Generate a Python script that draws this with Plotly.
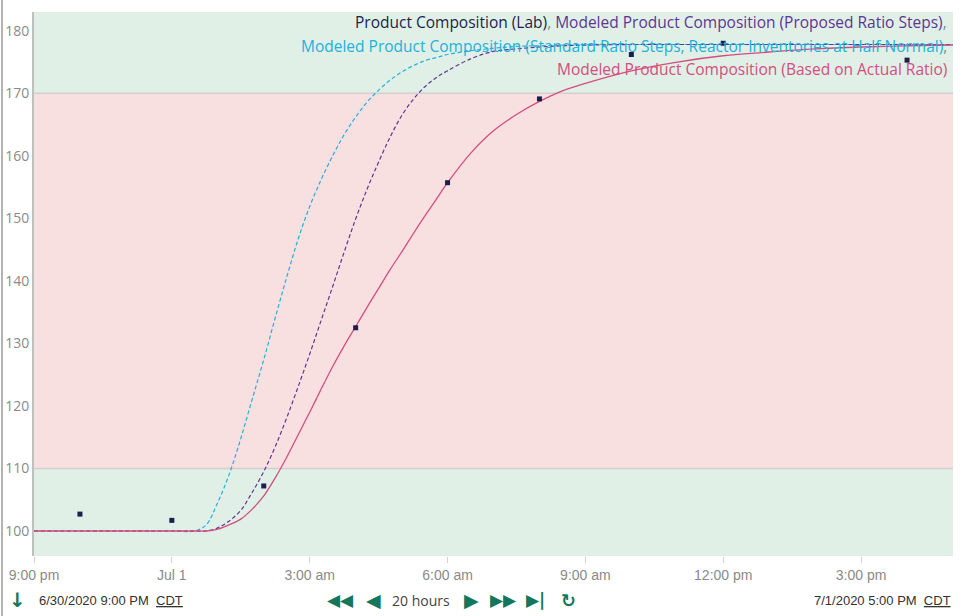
import plotly.graph_objects as go

# Product Composition (Lab)
lab_times = ["2020-06-30 22:00", "2020-07-01 00:00", "2020-07-01 02:00", "2020-07-01 04:00",
             "2020-07-01 06:00", "2020-07-01 08:00", "2020-07-01 10:00", "2020-07-01 12:00",
             "2020-07-01 16:00"]
lab_values = [102.7, 101.7, 107.2, 132.5, 155.7, 169.1, 176.2, 178.0, 175.3]

# shared time grid for the modeled curves
model_times = (["2020-06-30 21:00", "2020-07-01 00:00"]
               + [f"2020-07-01 {h:02d}:{m:02d}" for h in range(0, 7) for m in (0, 15, 30, 45)
                  if "00:30" <= f"{h:02d}:{m:02d}" <= "06:00"]
               + ["2020-07-01 06:30", "2020-07-01 07:00", "2020-07-01 07:30", "2020-07-01 08:00",
                  "2020-07-01 08:30", "2020-07-01 09:00"]
               + [f"2020-07-01 {h:02d}:00" for h in range(10, 18)])

# Modeled (Standard Ratio Steps, Reactor Inventories at Half Normal)
standard_values = [100, 100,
                   100, 101.0, 104.6, 109.1, 114.8, 121.1, 127.4, 134.1, 140.6, 146.7, 151.9,
                   156.2, 160.0, 163.4, 166.2, 168.6, 170.5, 172.1, 173.4, 174.4, 175.2, 175.7,
                   176.2,
                   176.8, 177.2, 177.5, 177.6, 177.7, 177.8,
                   177.8, 177.8, 177.8, 177.8, 177.8, 177.8, 177.8, 177.8]

# Modeled (Proposed Ratio Steps)
proposed_values = [100, 100,
                   100, 100.0, 100.5, 101.6, 103.3, 106.2, 109.5, 113.5, 118.1, 123.1, 128.3,
                   133.7, 139.1, 144.6, 149.9, 154.7, 159.0, 163.0, 166.4, 169.0, 171.0, 172.5,
                   173.6,
                   175.5, 176.7, 177.1, 177.4, 177.6, 177.7,
                   177.8, 177.8, 177.8, 177.8, 177.8, 177.8, 177.8, 177.8]

# Modeled (Based on Actual Ratio)
actual_values = [100, 100,
                 100, 100.0, 100.3, 101.0, 101.9, 103.5, 105.6, 108.5, 111.8, 115.4, 119.0,
                 122.7, 126.3, 129.6, 132.7, 135.8, 138.8, 141.8, 144.6, 147.5, 150.3, 153.0,
                 155.7,
                 160.4, 164.0, 166.6, 168.7, 170.4, 171.6,
                 173.6, 175.0, 176.0, 176.6, 177.1, 177.4, 177.6, 177.7]

# limit bands
low_limit = 110
high_limit = 170

tick_times = ["2020-06-30 21:00", "2020-07-01 00:00", "2020-07-01 03:00", "2020-07-01 06:00",
              "2020-07-01 09:00", "2020-07-01 12:00", "2020-07-01 15:00"]
tick_labels = ["9:00 pm", "Jul 1", "3:00 am", "6:00 am", "9:00 am", "12:00 pm", "3:00 pm"]

C_LAB = "#1b1f4b"
C_PROP = "#5e3592"
C_STD = "#22b0dc"
C_ACT = "#d44d80"
C_GREEN = "#14775c"
Y_MIN, Y_MAX = 96, 183

fig = go.Figure()

fig.add_trace(go.Scatter(x=model_times, y=standard_values, mode="lines",
                         line=dict(color=C_STD, width=1.2, dash="4px,2.5px", shape="spline", smoothing=1)))
fig.add_trace(go.Scatter(x=model_times, y=proposed_values, mode="lines",
                         line=dict(color=C_PROP, width=1.2, dash="4px,2.5px", shape="spline", smoothing=1)))
fig.add_trace(go.Scatter(x=model_times, y=actual_values, mode="lines",
                         line=dict(color=C_ACT, width=1.3, shape="spline", smoothing=1)))
fig.add_trace(go.Scatter(x=lab_times, y=lab_values, mode="markers",
                         marker=dict(color=C_LAB, size=5, symbol="square")))

# background bands
for y0, y1, col in [(Y_MIN, low_limit, "#e1f0e7"), (low_limit, high_limit, "#f9e0e0"),
                    (high_limit, Y_MAX, "#e1f0e7")]:
    fig.add_shape(type="rect", xref="paper", yref="y", x0=0, x1=1, y0=y0, y1=y1,
                  fillcolor=col, line_width=0, layer="below")
for yv in [low_limit, high_limit]:
    fig.add_shape(type="line", xref="paper", yref="y", x0=0, x1=1, y0=yv, y1=yv,
                  line=dict(color="#d3cfcf", width=1.5), layer="below")

# thin frame line at far left
fig.add_shape(type="line", xref="paper", yref="paper", x0=-0.0348, x1=-0.0348, y0=-0.12, y1=1.03,
              line=dict(color="#9a9a9a", width=1.5))

# legend text (three lines, right aligned)
sep = '<span style="color:#888888">,</span>'
legend_lines = [
    f'<span style="color:{C_LAB}">Product Composition (Lab)</span>{sep} '
    f'<span style="color:{C_PROP}">Modeled Product Composition (Proposed Ratio Steps)</span>{sep}',
    f'<span style="color:{C_STD}">Modeled Product Composition (Standard Ratio Steps, '
    f'Reactor Inventories at Half Normal)</span>{sep}',
    f'<span style="color:{C_ACT}">Modeled Product Composition (Based on Actual Ratio)</span>',
]
for i, txt in enumerate(legend_lines):
    fig.add_annotation(text=txt, xref="paper", yref="paper", x=0.9955, y=0.981 - i * 0.0432,
                       xanchor="right", yanchor="middle", showarrow=False,
                       font=dict(family="Open Sans", size=15.5))

# bottom navigator bar
nav_font = dict(family="Liberation Sans Narrow, Liberation Sans", size=13, color="#333333")
fig.add_annotation(text="<b>↓</b>", xref="paper", yref="paper", x=(17 - 34) / 919, y=-0.081,
                   showarrow=False, xanchor="center", yanchor="middle",
                   font=dict(family="DejaVu Sans", size=20, color=C_GREEN))
fig.add_annotation(text="6/30/2020 9:00 PM  <u>CDT</u>", xref="paper", yref="paper",
                   x=(37 - 34) / 919, y=-0.081, showarrow=False, xanchor="left",
                   yanchor="middle", font=nav_font)
fig.add_annotation(text="7/1/2020 5:00 PM  <u>CDT</u>", xref="paper", yref="paper", x=1.0,
                   y=-0.081, showarrow=False, xanchor="right", yanchor="middle", font=nav_font)
for px, sym, sz in [(340, "◀◀", 17), (373, "◀", 19), (471, "▶", 19), (503, "▶▶", 17),
                    (535, "▶|", 17), (568, "↻", 18)]:
    fig.add_annotation(text=f"<b>{sym}</b>", xref="paper", yref="paper", x=(px - 34) / 919,
                       y=-0.081, showarrow=False, xanchor="center", yanchor="middle",
                       font=dict(family="DejaVu Sans", size=sz, color=C_GREEN))
fig.add_annotation(text="20 hours", xref="paper", yref="paper", x=(421 - 34) / 919, y=-0.081,
                   showarrow=False, xanchor="center", yanchor="middle",
                   font=dict(family="Open Sans", size=14, color="#444444"))

fig.update_layout(
    width=972, height=616,
    margin=dict(l=34, r=19, t=12, b=60, autoexpand=False),
    paper_bgcolor="white",
    plot_bgcolor="white",
    showlegend=False,
    xaxis=dict(type="date", range=["2020-06-30 21:00", "2020-07-01 17:00"],
               tickvals=tick_times, ticktext=tick_labels, showgrid=False, zeroline=False,
               ticks="outside", ticklen=6, tickcolor="#d0d0d0", showline=False, automargin=False,
               tickfont=dict(family="Liberation Sans Narrow, Liberation Sans", size=14, color="#8a8a8a")),
    yaxis=dict(range=[Y_MIN, Y_MAX], tickvals=[100, 110, 120, 130, 140, 150, 160, 170, 180],
               showgrid=False, zeroline=False, showline=True, linecolor="#c0c0c0", linewidth=2,
               ticks="", automargin=False,
               tickfont=dict(family="Open Sans", size=14, color="#8a8a8a")),
)

fig.write_html("out.html", config={"displayModeBar": False},
               post_script="document.body.style.margin='0';")
